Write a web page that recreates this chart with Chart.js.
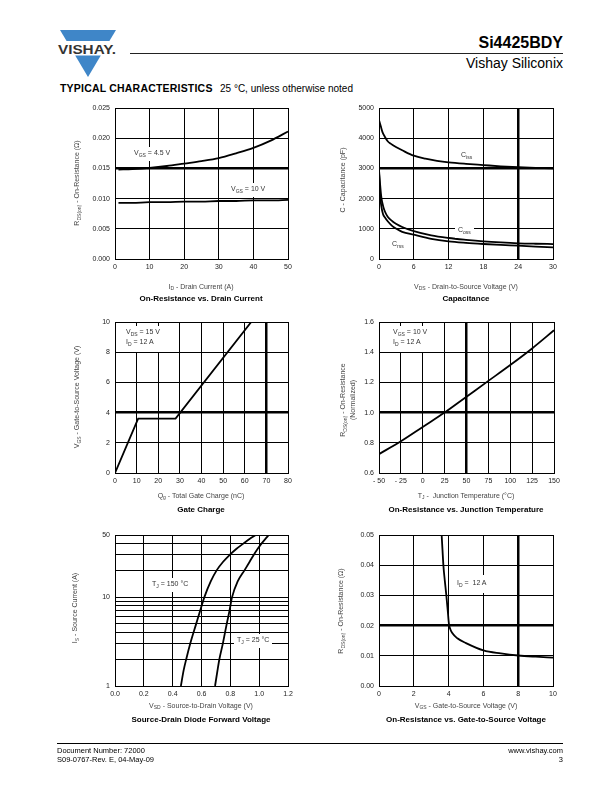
<!DOCTYPE html>
<html>
<head>
<meta charset="utf-8">
<script src="https://cdn.jsdelivr.net/npm/chart.js@4.4.1/dist/chart.umd.min.js"></script>
<style>
  body { margin: 0; width: 612px; height: 792px; position: relative; background: #fff; overflow: hidden;
         font-family: "Liberation Sans", Arial, sans-serif; color: #000; }
  canvas { position: absolute; left: 0; top: 0; }
  .abs { position: absolute; white-space: nowrap; }
  .xt { position: absolute; white-space: nowrap; transform: translate(-50%, -50%); font-size: 7px; color: #444; filter: grayscale(100%); }
  .yt { position: absolute; white-space: nowrap; transform: translate(-50%, -50%) rotate(-90deg); font-size: 7px; color: #444; text-align: center; line-height: 8px; filter: grayscale(100%); }
  .ct { position: absolute; white-space: nowrap; transform: translate(-50%, -50%); font-size: 8px; font-weight: bold; filter: grayscale(100%); }
  .lbl { position: absolute; white-space: nowrap; font-size: 7px; color: #333; background: #fff; padding: 2px 3px; line-height: 8px; z-index: 2; filter: grayscale(100%); }
  .s { font-size: 5px; vertical-align: -1.5px; }
</style>
</head>
<body>

<svg class="abs" style="left:0;top:0" width="200" height="90">
  <polygon points="60,30 116,30 109.4,41 66.6,41" fill="#3f86c8"/>
  <polygon points="75.2,55.5 100.8,55.5 88,77" fill="#3f86c8"/>
  <text x="58" y="54" font-family="Liberation Sans, Arial" font-weight="bold" font-size="13.5" fill="#333" textLength="58" lengthAdjust="spacingAndGlyphs">VISHAY.</text>
</svg>
<div class="abs" style="left:130px;top:53px;width:433px;height:1.3px;background:#222"></div>
<div class="abs" style="right:49px;top:34px;font-size:16px;font-weight:bold">Si4425BDY</div>
<div class="abs" style="right:49px;top:55px;font-size:14px">Vishay Siliconix</div>
<div class="abs" style="left:60px;top:82px;font-size:10.5px;font-weight:bold;letter-spacing:0.2px">TYPICAL CHARACTERISTICS</div>
<div class="abs" style="left:220px;top:83px;font-size:10px">25 °C, unless otherwise noted</div>

<canvas id="c1" width="612" height="792"></canvas>
<canvas id="c2" width="612" height="792"></canvas>
<canvas id="c3" width="612" height="792"></canvas>
<canvas id="c4" width="612" height="792"></canvas>
<canvas id="c5" width="612" height="792"></canvas>
<canvas id="c6" width="612" height="792"></canvas>

<!-- chart 1 texts -->
<div class="yt" style="left:78px;top:183px">R<span class="s">DS(on)</span> - On-Resistance (Ω)</div>
<div class="xt" style="left:201px;top:287px">I<span class="s">D</span> - Drain Current (A)</div>
<div class="ct" style="left:201px;top:298px">On-Resistance vs. Drain Current</div>
<div class="lbl" style="left:131px;top:147px">V<span class="s">GS</span> = 4.5 V</div>
<div class="lbl" style="left:228px;top:183px">V<span class="s">GS</span> = 10 V</div>

<!-- chart 2 texts -->
<div class="yt" style="left:343px;top:180px">C - Capacitance (pF)</div>
<div class="xt" style="left:466px;top:287px">V<span class="s">DS</span> - Drain-to-Source Voltage (V)</div>
<div class="ct" style="left:466px;top:298px">Capacitance</div>
<div class="lbl" style="left:458px;top:149px;background:none">C<span class="s">iss</span></div>
<div class="lbl" style="left:455px;top:224px">C<span class="s">oss</span></div>
<div class="lbl" style="left:389px;top:238px;background:none">C<span class="s">rss</span></div>

<!-- chart 3 texts -->
<div class="yt" style="left:78px;top:397px">V<span class="s">GS</span> - Gate-to-Source Voltage (V)</div>
<div class="xt" style="left:201px;top:496px">Q<span class="s">g</span> - Total Gate Charge (nC)</div>
<div class="ct" style="left:201px;top:509px">Gate Charge</div>
<div class="lbl" style="left:123px;top:326px;padding-bottom:5px">V<span class="s">DS</span> = 15 V<br>I<span class="s">D</span> = 12 A</div>

<!-- chart 4 texts -->
<div class="yt" style="left:348px;top:400px">R<span class="s">DS(on)</span> - On-Resistance<br>(Normalized)</div>
<div class="xt" style="left:466px;top:496px">T<span class="s">J</span> -&nbsp; Junction Temperature (°C)</div>
<div class="ct" style="left:466px;top:509px">On-Resistance vs. Junction Temperature</div>
<div class="lbl" style="left:390px;top:326px;padding-bottom:5px">V<span class="s">GS</span> = 10 V<br>I<span class="s">D</span> = 12 A</div>

<!-- chart 5 texts -->
<div class="yt" style="left:76px;top:608px">I<span class="s">S</span> - Source Current (A)</div>
<div class="xt" style="left:201px;top:706px">V<span class="s">SD</span> - Source-to-Drain Voltage (V)</div>
<div class="ct" style="left:201px;top:719px">Source-Drain Diode Forward Voltage</div>
<div class="lbl" style="left:149px;top:578px">T<span class="s">J</span> = 150 °C</div>
<div class="lbl" style="left:234px;top:634px">T<span class="s">J</span> = 25 °C</div>

<!-- chart 6 texts -->
<div class="yt" style="left:342px;top:611px">R<span class="s">DS(on)</span> - On-Resistance (Ω)</div>
<div class="xt" style="left:466px;top:706px">V<span class="s">GS</span> - Gate-to-Source Voltage (V)</div>
<div class="ct" style="left:466px;top:719px">On-Resistance vs. Gate-to-Source Voltage</div>
<div class="lbl" style="left:452px;top:575px;padding:4px 5px">I<span class="s">D</span> =&nbsp; 12 A</div>

<!-- footer -->
<div class="abs" style="left:57px;top:743px;width:506px;height:1px;background:#000"></div>
<div class="abs" style="left:57px;top:746px;font-size:7.5px;line-height:9px">Document Number: 72000<br>S09-0767-Rev. E, 04-May-09</div>
<div class="abs" style="right:49px;top:746px;font-size:7.5px;line-height:9px;text-align:right">www.vishay.com<br>3</div>

<script>
// on-resistance vs drain current
const idAmps = [1, 5, 10, 15, 20, 25, 30, 35, 40, 45, 50]
const rdsVgs45 = [0.0148, 0.0149, 0.0151, 0.0154, 0.0158, 0.0162, 0.0167, 0.0175, 0.0184, 0.0196, 0.0211]
const rdsVgs10 = [0.0093, 0.0093, 0.0094, 0.0094, 0.0095, 0.0095, 0.0096, 0.0096, 0.0097, 0.0097, 0.0098]

// capacitance
const vdsCiss = [0, 0.3, 0.6, 1, 1.5, 2, 3, 4, 6, 8, 10, 12, 15, 18, 21, 24, 27, 30]
const ciss = [4600, 4400, 4200, 4050, 3900, 3820, 3700, 3600, 3420, 3320, 3250, 3200, 3150, 3110, 3070, 3040, 3020, 3000]
const vdsOut = [0, 0.2, 0.4, 0.7, 1, 1.5, 2.3, 3, 4, 6, 9, 12, 15, 18, 21, 24, 27, 30]
const coss = [2950, 2450, 2050, 1760, 1580, 1400, 1250, 1160, 1060, 920, 780, 695, 635, 585, 548, 520, 505, 495]
const crss = [2900, 2100, 1750, 1480, 1380, 1250, 1090, 1000, 900, 805, 670, 585, 535, 497, 465, 440, 410, 386]

// gate charge
const qgNc = [0, 10.7, 28, 63]
const vgsCharge = [0, 3.6, 3.6, 10]

// on-resistance vs junction temperature
const tjDeg = [-50, -25, 0, 25, 50, 75, 100, 125, 150]
const rdsNorm = [0.725, 0.81, 0.905, 1.0, 1.105, 1.21, 1.315, 1.425, 1.545]

// source-drain diode
const isAmps = [1, 1.5, 2, 3, 5, 7, 10, 15, 20, 25, 30, 35, 40, 45, 50]
const vsd150 = [0.457, 0.476, 0.494, 0.522, 0.563, 0.59, 0.62, 0.664, 0.705, 0.75, 0.797, 0.843, 0.89, 0.933, 0.977]
const vsd25 = [0.694, 0.711, 0.724, 0.748, 0.775, 0.794, 0.812, 0.851, 0.898, 0.934, 0.963, 0.99, 1.016, 1.042, 1.067]
const isTicks = [1, 2, 3, 4, 5, 6, 7, 8, 9, 10, 20, 30, 40, 50]
const isLabels = [1, 10, 50]

// on-resistance vs gate-to-source voltage
const vgsOn = [3.6, 3.65, 3.7, 3.78, 3.87, 3.95, 4.02, 4.1, 4.2, 4.5, 5, 6, 7, 8, 9, 10]
const rdsOnVgs = [0.05, 0.045, 0.04, 0.035, 0.03, 0.025, 0.0205, 0.0188, 0.0176, 0.0158, 0.0142, 0.0118, 0.0108, 0.0101, 0.0097, 0.0094]

const FONT = '"Liberation Sans", Arial, sans-serif'
const Y_AXIS_W = 40
const X_AXIS_H = 14

function pts(xs, ys) {
  return xs.map((x, i) => ({ x: x, y: ys[i] }))
}

function near(list, v) {
  return list.some(t => Math.abs(t - v) < 1e-9)
}

function axis(o, isY) {
  const a = {
    type: o.type || 'linear',
    min: o.min,
    max: o.max,
    afterFit: s => { if (isY) s.width = Y_AXIS_W; else s.height = X_AXIS_H },
    grid: {
      color: '#000',
      drawTicks: false,
      lineWidth: c => (c.tick && near(o.thick || [], c.tick.value)) ? 2.5 : 1
    },
    border: { display: true, color: '#000', width: 1 },
    ticks: {
      stepSize: o.step,
      padding: isY ? 5 : 4,
      color: '#222',
      autoSkip: false,
      maxRotation: 0,
      font: { family: FONT, size: 7 },
      callback: o.fmt
    }
  }
  if (o.ticks) a.afterBuildTicks = s => { s.ticks = o.ticks.map(v => ({ value: v })) }
  return a
}

function line(data, smooth) {
  return {
    data: data,
    showLine: true,
    borderColor: '#000',
    borderWidth: 1.8,
    pointRadius: 0,
    fill: false,
    tension: 0,
    cubicInterpolationMode: smooth === false ? 'default' : 'monotone'
  }
}

function makeChart(id, box, xOpt, yOpt, datasets) {
  return new Chart(document.getElementById(id), {
    type: 'scatter',
    data: { datasets: datasets },
    options: {
      responsive: false,
      animation: false,
      devicePixelRatio: 1,
      events: [],
      layout: {
        padding: { left: box.l - Y_AXIS_W, top: box.t, right: 612 - box.r, bottom: 792 - box.b - X_AXIS_H }
      },
      plugins: { legend: { display: false }, tooltip: { enabled: false } },
      scales: { x: axis(xOpt, false), y: axis(yOpt, true) }
    }
  })
}

makeChart('c1', { l: 115, t: 108, r: 288, b: 259 },
  { min: 0, max: 50, step: 10 },
  { min: 0, max: 0.025, step: 0.005, thick: [0.015], fmt: v => v.toFixed(3) },
  [line(pts(idAmps, rdsVgs45)), line(pts(idAmps, rdsVgs10))])

makeChart('c2', { l: 379, t: 108, r: 553, b: 259 },
  { min: 0, max: 30, step: 6, thick: [24] },
  { min: 0, max: 5000, step: 1000, thick: [3000], fmt: v => String(v) },
  [line(pts(vdsCiss, ciss)), line(pts(vdsOut, coss)), line(pts(vdsOut, crss))])

makeChart('c3', { l: 115, t: 322, r: 288, b: 473 },
  { min: 0, max: 80, step: 10, thick: [70] },
  { min: 0, max: 10, step: 2, thick: [4] },
  [line(pts(qgNc, vgsCharge), false)])

makeChart('c4', { l: 379, t: 322, r: 554, b: 473 },
  { min: -50, max: 150, step: 25, thick: [50], fmt: v => v < 0 ? '- ' + Math.abs(v) : String(v) },
  { min: 0.6, max: 1.6, step: 0.2, thick: [1.0], fmt: v => v.toFixed(1) },
  [line(pts(tjDeg, rdsNorm))])

makeChart('c5', { l: 115, t: 535, r: 288, b: 686 },
  { min: 0, max: 1.2, step: 0.2, fmt: v => v.toFixed(1) },
  { type: 'logarithmic', min: 1, max: 50, ticks: isTicks, fmt: v => isLabels.includes(v) ? String(v) : '' },
  [line(pts(vsd150, isAmps)), line(pts(vsd25, isAmps))])

makeChart('c6', { l: 379, t: 535, r: 553, b: 686 },
  { min: 0, max: 10, step: 2, thick: [8] },
  { min: 0, max: 0.05, step: 0.01, thick: [0.02], fmt: v => v.toFixed(2) },
  [line(pts(vgsOn, rdsOnVgs))])
</script>
</body>
</html>
